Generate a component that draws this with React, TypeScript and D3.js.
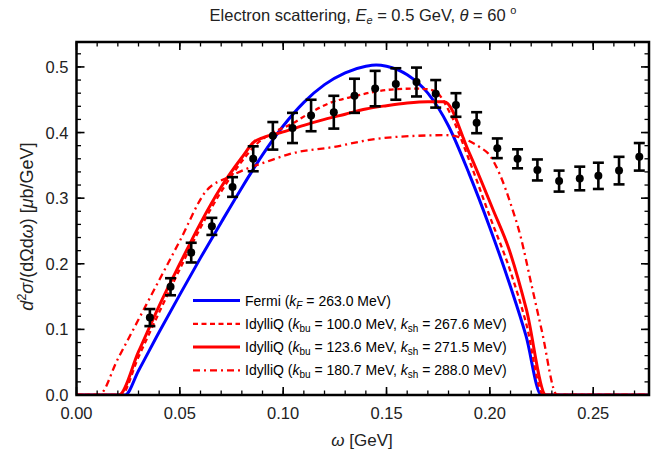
import React from "react";
import * as d3 from "d3";

// ---------- data ----------
const omegaData = [0.0355, 0.0455, 0.0555, 0.0655, 0.0755, 0.0855, 0.095, 0.1045, 0.1135, 0.1245, 0.1345, 0.1445, 0.1545, 0.1645, 0.1738, 0.1836, 0.1936, 0.2036, 0.2134, 0.223, 0.2335, 0.2435, 0.2525, 0.2625, 0.2723];
const xsecData = [0.118, 0.165, 0.217, 0.257, 0.317, 0.36, 0.395, 0.407, 0.426, 0.431, 0.456, 0.467, 0.474, 0.477, 0.459, 0.442, 0.415, 0.376, 0.36, 0.343, 0.326, 0.33, 0.334, 0.342, 0.363];
const errData = [0.013, 0.013, 0.015, 0.013, 0.015, 0.019, 0.021, 0.023, 0.024, 0.025, 0.026, 0.027, 0.024, 0.022, 0.021, 0.018, 0.016, 0.015, 0.0145, 0.016, 0.016, 0.018, 0.02, 0.021, 0.021];

const fermiX = [0, 0.0235, 0.03, 0.04, 0.05, 0.06, 0.07, 0.08, 0.09, 0.1, 0.11, 0.12, 0.13, 0.14, 0.145, 0.15, 0.16, 0.17, 0.18, 0.19, 0.2, 0.21, 0.2175, 0.2249, 0.277];
const fermiY = [0, 0, 0.037, 0.096, 0.153, 0.209, 0.263, 0.316, 0.366, 0.41, 0.446, 0.473, 0.491, 0.501, 0.503, 0.501, 0.488, 0.46, 0.41, 0.337, 0.255, 0.165, 0.09, 0, 0];

const kbu100X = [0, 0.0215, 0.03, 0.04, 0.05, 0.06, 0.07, 0.08, 0.087, 0.094, 0.104, 0.113, 0.1225, 0.134, 0.144, 0.154, 0.164, 0.17, 0.174, 0.1807, 0.19, 0.2, 0.21, 0.2175, 0.226, 0.277];
const kbu100Y = [0, 0, 0.058, 0.126, 0.192, 0.255, 0.31, 0.356, 0.382, 0.398, 0.413, 0.43, 0.445, 0.455, 0.462, 0.466, 0.467, 0.466, 0.462, 0.43, 0.358, 0.272, 0.188, 0.11, 0, 0];

const kbu124X = [0, 0.0205, 0.03, 0.04, 0.05, 0.06, 0.07, 0.08, 0.086, 0.09, 0.1, 0.11, 0.12, 0.13, 0.14, 0.15, 0.16, 0.17, 0.178, 0.1895, 0.2016, 0.2094, 0.2177, 0.2272, 0.277];
const kbu124Y = [0, 0, 0.066, 0.136, 0.2, 0.262, 0.317, 0.362, 0.386, 0.392, 0.401, 0.411, 0.42, 0.428, 0.436, 0.441, 0.445, 0.447, 0.447, 0.373, 0.282, 0.221, 0.13, 0, 0];

const kbu181X = [0, 0.0108, 0.02, 0.03, 0.04, 0.05, 0.0625, 0.0742, 0.0943, 0.104, 0.1243, 0.1442, 0.1643, 0.1788, 0.185, 0.19, 0.195, 0.2, 0.205, 0.21, 0.215, 0.22, 0.225, 0.2326, 0.277];
const kbu181Y = [0, 0, 0.055, 0.115, 0.175, 0.235, 0.31, 0.333, 0.358, 0.368, 0.378, 0.39, 0.395, 0.396, 0.393, 0.387, 0.378, 0.365, 0.335, 0.292, 0.24, 0.17, 0.1, 0, 0];

const xTicks = [0, 0.05, 0.1, 0.15, 0.2, 0.25];
const yTicks = [0, 0.1, 0.2, 0.3, 0.4, 0.5];

// ---------- layout ----------
const W = 652, H = 455;
const L = 76.5, R = 649, T = 42, B = 395;
const x = d3.scaleLinear().domain([0, 0.277]).range([L, R]);
const y = d3.scaleLinear().domain([0, 0.538]).range([B, T]);
const FONT = "'Liberation Sans', Arial, sans-serif";

type S = { xs: number[]; ys: number[]; color: string; width: number; dash?: string };
const series: S[] = [
  { xs: fermiX, ys: fermiY, color: "#0000ff", width: 3 },
  { xs: kbu181X, ys: kbu181Y, color: "#ff0000", width: 2.3, dash: "7,4,2,4" },
  { xs: kbu100X, ys: kbu100Y, color: "#ff0000", width: 2.3, dash: "5,3.5" },
  { xs: kbu124X, ys: kbu124Y, color: "#ff0000", width: 3 },
];

const line = d3
  .line<[number, number]>()
  .x((d) => x(d[0]))
  .y((d) => y(d[1]))
  .curve(d3.curveMonotoneX);

export default function App() {
  const xMinor = d3.range(0, 0.2771, 0.01);
  const yMinor = d3.range(0, 0.5381, 0.02);
  const legendRows = [
    { color: "#0000ff", width: 3, dash: undefined as string | undefined, kind: "fermi", a: "263.0" },
    { color: "#ff0000", width: 2.3, dash: "5,3.5", kind: "idy", a: "100.0", b: "267.6" },
    { color: "#ff0000", width: 3, dash: undefined, kind: "idy", a: "123.6", b: "271.5" },
    { color: "#ff0000", width: 2.3, dash: "7,4,2,4", kind: "idy", a: "180.7", b: "288.0" },
  ];
  return (
    <svg width={W} height={H} style={{ position: "absolute", left: 0, top: 0 }} fontFamily={FONT}>
      <rect width={W} height={H} fill="white" />
      <defs>
        <clipPath id="plotclip">
          <rect x={L} y={T} width={R - L} height={B - T} />
        </clipPath>
      </defs>
      {/* curves */}
      <g clipPath="url(#plotclip)">
        {series.map((s, i) => (
          <path
            key={i}
            d={line(s.xs.map((v, j) => [v, s.ys[j]] as [number, number])) || ""}
            fill="none"
            stroke={s.color}
            strokeWidth={s.width}
            strokeDasharray={s.dash}
          />
        ))}
      </g>
      {/* data points */}
      <g>
        {omegaData.map((w, i) => {
          const cx = x(w);
          const y1 = y(xsecData[i] + errData[i]);
          const y0 = y(xsecData[i] - errData[i]);
          return (
            <g key={i}>
              <line x1={cx} x2={cx} y1={y0} y2={y1} stroke="black" strokeWidth={2.6} />
              <line x1={cx - 5.5} x2={cx + 5.5} y1={y0} y2={y0} stroke="black" strokeWidth={2.6} />
              <line x1={cx - 5.5} x2={cx + 5.5} y1={y1} y2={y1} stroke="black" strokeWidth={2.6} />
              <circle cx={cx} cy={y(xsecData[i])} r={4} fill="black" />
            </g>
          );
        })}
      </g>
      {/* legend */}
      <g fontSize={14}>
        {legendRows.map((r, i) => {
          const ly = 300.5 + i * 23.3;
          return (
            <g key={i}>
              <line x1={193} x2={240} y1={ly} y2={ly} stroke={r.color} strokeWidth={r.width} strokeDasharray={r.dash} />
              {r.kind === "fermi" ? (
                <text x={245} y={ly + 5}>
                  Fermi (<tspan fontStyle="italic">k</tspan>
                  <tspan fontSize={10} dy={3} fontStyle="italic">F</tspan>
                  <tspan dy={-3}> = {r.a} MeV)</tspan>
                </text>
              ) : (
                <text x={245} y={ly + 5}>
                  IdylliQ (<tspan fontStyle="italic">k</tspan>
                  <tspan fontSize={10} dy={3}>bu</tspan>
                  <tspan dy={-3}> = {r.a} MeV, </tspan>
                  <tspan fontStyle="italic">k</tspan>
                  <tspan fontSize={10} dy={3}>sh</tspan>
                  <tspan dy={-3}> = {r.b} MeV)</tspan>
                </text>
              )}
            </g>
          );
        })}
      </g>
      {/* ticks */}
      <g stroke="black">
        {xTicks.map((t) => (
          <g key={"xt" + t}>
            <line x1={x(t)} x2={x(t)} y1={B} y2={B - 8} strokeWidth={1.6} />
            <line x1={x(t)} x2={x(t)} y1={T} y2={T + 8} strokeWidth={1.6} />
          </g>
        ))}
        {xMinor.map((t, i) => (
          <g key={"xm" + i}>
            <line x1={x(t)} x2={x(t)} y1={B} y2={B - 4.5} strokeWidth={1.3} />
            <line x1={x(t)} x2={x(t)} y1={T} y2={T + 4.5} strokeWidth={1.3} />
          </g>
        ))}
        {yTicks.map((t) => (
          <g key={"yt" + t}>
            <line x1={L} x2={L + 8} y1={y(t)} y2={y(t)} strokeWidth={1.6} />
            <line x1={R} x2={R - 8} y1={y(t)} y2={y(t)} strokeWidth={1.6} />
          </g>
        ))}
        {yMinor.map((t, i) => (
          <g key={"ym" + i}>
            <line x1={L} x2={L + 4.5} y1={y(t)} y2={y(t)} strokeWidth={1.3} />
            <line x1={R} x2={R - 4.5} y1={y(t)} y2={y(t)} strokeWidth={1.3} />
          </g>
        ))}
      </g>
      {/* frame */}
      <rect x={L} y={T} width={R - L} height={B - T} fill="none" stroke="black" strokeWidth={2.5} />
      {/* tick labels */}
      <g fontSize={16.5} fill="#222">
        {xTicks.map((t) => (
          <text key={"xl" + t} x={x(t)} y={B + 24} textAnchor="middle">
            {d3.format(".2f")(t)}
          </text>
        ))}
        {yTicks.map((t) => (
          <text key={"yl" + t} x={L - 8} y={y(t) + 6} textAnchor="end">
            {d3.format(".1f")(t)}
          </text>
        ))}
      </g>
      {/* axis titles */}
      <text x={362} y={446} fontSize={17} textAnchor="middle" fill="#222">
        <tspan fontStyle="italic">ω</tspan> [GeV]
      </text>
      <text transform={`translate(33, ${(T + B) / 2 + 8}) rotate(-90)`} fontSize={18} textAnchor="middle" fill="#222">
        <tspan fontStyle="italic">d</tspan>
        <tspan fontSize={12.5} dy={-7}>2</tspan>
        <tspan fontStyle="italic" dy={7}>σ</tspan>/(dΩd<tspan fontStyle="italic">ω</tspan>) [<tspan fontStyle="italic">μ</tspan>b/GeV]
      </text>
      {/* title */}
      <text x={363} y={21} fontSize={16.5} textAnchor="middle" fill="#222">
        Electron scattering, <tspan fontStyle="italic">E</tspan>
        <tspan fontSize={11} dy={3} fontStyle="italic">e</tspan>
        <tspan dy={-3}> = 0.5 GeV, </tspan>
        <tspan fontStyle="italic">θ</tspan> = 60 <tspan fontSize={11} dy={-7}>o</tspan>
      </text>
    </svg>
  );
}
